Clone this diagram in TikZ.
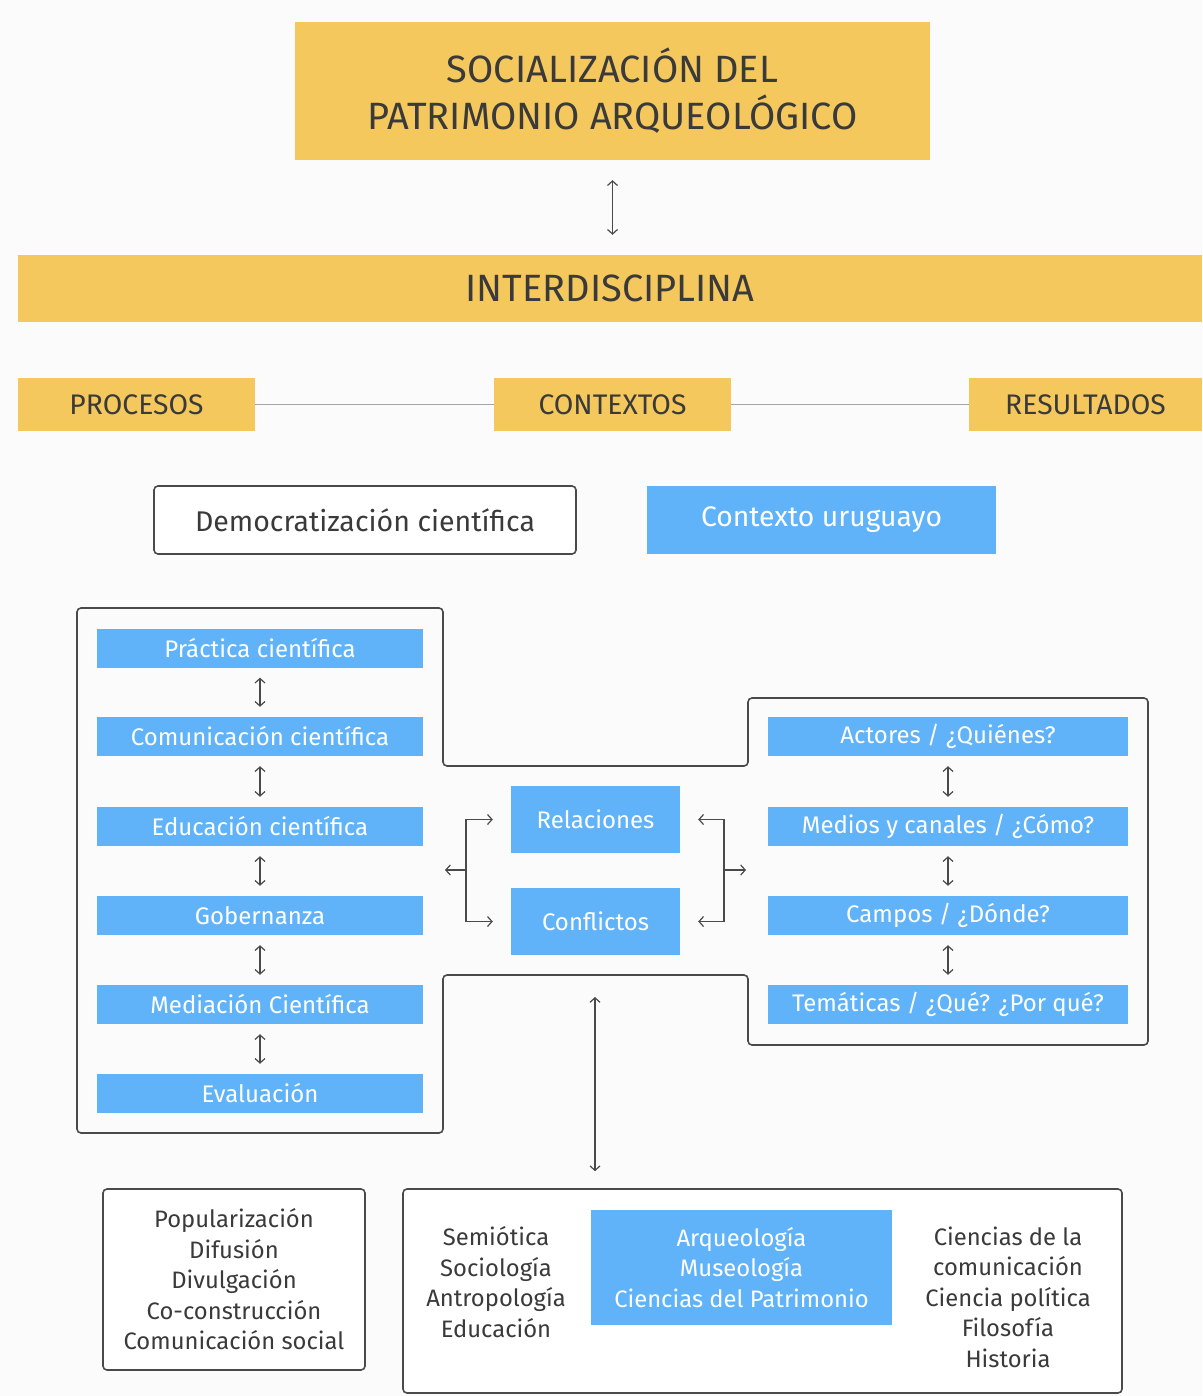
\documentclass[tikz,border=0pt]{standalone}
\usepackage{fontspec}
\setmainfont{Fira Sans}
\usetikzlibrary{arrows.meta}
\definecolor{gold}{HTML}{F4C85C}
\definecolor{sky}{HTML}{60B3F9}
\definecolor{ink}{HTML}{3A3A3A}
\definecolor{rule}{HTML}{4A4A4A}
\definecolor{paper}{HTML}{FBFBFB}
\tikzset{
  >={Straight Barb[length=4.5pt,width=10pt]},
  goldbox/.style={fill=gold,text=ink,inner sep=0pt,align=center},
  skybar/.style={fill=sky,text=white,inner sep=0pt,minimum height=39pt,
    font=\fontsize{24}{28}\selectfont},
  skybox/.style={fill=sky,text=white,inner sep=0pt,align=center},
  framebox/.style={draw=rule,line width=1.6pt,rounded corners=4pt,fill=white,
    inner sep=0pt,align=center,text=ink},
  listtext/.style={text=ink,align=center,inner sep=0pt,
    font=\fontsize{23.8}{30.5}\selectfont},
  link/.style={draw=rule,line width=1.2pt},
}
\begin{document}
\begin{tikzpicture}[x=1pt,y=-1pt]
  \fill[paper] (0,0) rectangle (1202,1396);
  \useasboundingbox (0,0) rectangle (1202,1396);
  % top
  \node[goldbox,minimum width=635pt,minimum height=138pt,
    font=\fontsize{38}{47}\selectfont] (title) at (612.5,91)
    {SOCIALIZACIÓN DEL\\PATRIMONIO ARQUEOLÓGICO};
  \node[goldbox,minimum width=1184pt,minimum height=67pt,
    font=\fontsize{38}{44}\selectfont] (inter) at (610,288.5) {INTERDISCIPLINA};
  \draw[link,<->,shorten <=20pt,shorten >=20pt] (title.south) -- (title.south |- inter.north);
  \node[goldbox,minimum width=237pt,minimum height=53pt,
    font=\fontsize{28.3}{32}\selectfont] (proc) at (136.5,404.5) {PROCESOS};
  \node[goldbox,minimum width=237pt,minimum height=53pt,
    font=\fontsize{28.3}{32}\selectfont] (ctx) at (612.5,404.5) {CONTEXTOS};
  \node[goldbox,minimum width=233pt,minimum height=53pt,
    font=\fontsize{28.3}{32}\selectfont] (res) at (1085.5,404.5) {RESULTADOS};
  \draw[gray!70,line width=1.6pt] (proc) -- (ctx) (ctx) -- (res);
  \node[framebox,minimum width=422pt,minimum height=68pt,
    font=\fontsize{28.5}{32}\selectfont] (demo) at (365,520) {Democratización científica};
  \node[skybox,minimum width=349pt,minimum height=68pt,
    font=\fontsize{28.3}{32}\selectfont] (uru) at (821.5,520) {Contexto uruguayo};
  % outline
  \draw[rule,line width=1.6pt,rounded corners=4pt]
    (77,608) -- (443,608) -- (443,766) -- (748,766) -- (748,698) -- (1148,698)
    -- (1148,1045) -- (748,1045) -- (748,975) -- (443,975) -- (443,1133)
    -- (77,1133) -- cycle;
  \coordinate (notch) at (595,975);
  % procesos
  \node[skybar,minimum width=326pt] (p1) at (260,648) {Práctica científica};
  \node[skybar,minimum width=326pt] (p2) at (260,736.5) {Comunicación científica};
  \node[skybar,minimum width=326pt] (p3) at (260,826.5) {Educación científica};
  \node[skybar,minimum width=326pt] (p4) at (260,915.5) {Gobernanza};
  \node[skybar,minimum width=326pt] (p5) at (260,1004.5) {Mediación Científica};
  \node[skybar,minimum width=326pt] (p6) at (260,1093.5) {Evaluación};
  \foreach \a/\b in {p1/p2,p2/p3,p3/p4,p4/p5,p5/p6}
    \draw[link,<->,shorten <=10pt,shorten >=10pt] (\a) -- (\b);
  % resultados
  \node[skybar,minimum width=360pt] (r1) at (948,736.5) {Actores / ¿Quiénes?};
  \node[skybar,minimum width=360pt] (r2) at (948,826.5) {Medios y canales / ¿Cómo?};
  \node[skybar,minimum width=360pt] (r3) at (948,915.5) {Campos / ¿Dónde?};
  \node[skybar,minimum width=360pt] (r4) at (948,1004.5) {Temáticas / ¿Qué? ¿Por qué?};
  \foreach \a/\b in {r1/r2,r2/r3,r3/r4}
    \draw[link,<->,shorten <=10pt,shorten >=10pt] (\a) -- (\b);
  % contextos
  \node[skybox,minimum width=169pt,minimum height=67pt,
    font=\fontsize{24}{28}\selectfont] (rel) at (595.5,819.5) {Relaciones};
  \node[skybox,minimum width=169pt,minimum height=67pt,
    font=\fontsize{24}{28}\selectfont] (con) at (595.5,921.5) {Conflictos};
  \coordinate (lfork) at (466,870);
  \coordinate (lout) at (445,870);
  \coordinate (rfork) at (724,870);
  \coordinate (rout) at (746,870);
  \draw[link,->] (lfork) |- ([xshift=-18pt]rel.west);
  \draw[link,->] (lfork) |- ([xshift=-18pt]con.west);
  \draw[link,->] (lfork) -- (lout);
  \draw[link,->] (rfork) |- ([xshift=18pt]rel.east);
  \draw[link,->] (rfork) |- ([xshift=18pt]con.east);
  \draw[link,->] (rfork) -- (rout);
  % bottom
  \node[framebox,minimum width=262pt,minimum height=181pt] (terms) at (234,1279.5) {};
  \node[listtext] (termlist) at (terms.center)
    {Popularización\\Difusión\\Divulgación\\Co-construcción\\Comunicación social};
  \node[framebox,minimum width=719pt,minimum height=204pt] (disc) at (762.5,1291) {};
  \node[listtext] (social) at (496,1282) {Semiótica\\Sociología\\Antropología\\Educación};
  \node[skybox,minimum width=301pt,minimum height=115pt,
    font=\fontsize{23.8}{30.5}\selectfont] (core) at (741.5,1267.5)
    {Arqueología\\Museología\\Ciencias del Patrimonio};
  \node[listtext] (others) at (1008,1297)
    {Ciencias de la\\comunicación\\Ciencia política\\Filosofía\\Historia};
  \draw[link,<->,shorten <=22pt,shorten >=17pt] (notch) -- (notch |- disc.north);
\end{tikzpicture}
\end{document}
